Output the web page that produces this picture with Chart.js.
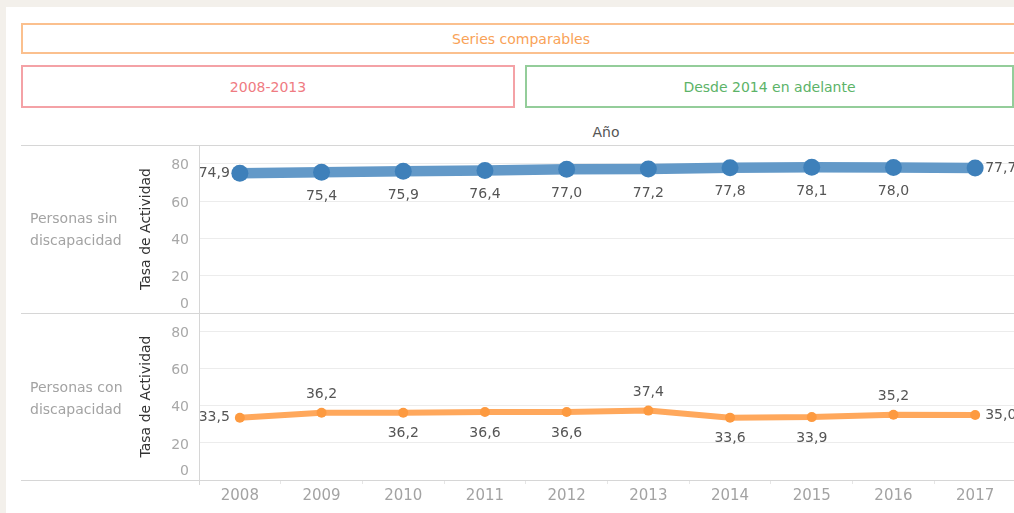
<!DOCTYPE html>
<html>
<head>
<meta charset="utf-8">
<script src="https://cdn.jsdelivr.net/npm/chart.js@4.4.0/dist/chart.umd.min.js"></script>
<style>
    html, body { margin: 0; padding: 0; }
    body {
        width: 1014px; height: 513px; position: relative; overflow: hidden;
        background: #f3f0eb; font-family: "DejaVu Sans", sans-serif;
    }
    #sheet { position: absolute; left: 6px; top: 7px; right: 0; bottom: 0; background: #fff; }
    .box {
        position: absolute; box-sizing: border-box; display: flex;
        align-items: center; justify-content: center; font-size: 14px;
    }
    .hline { position: absolute; left: 21px; width: 1000px; height: 1px; background: #d6d6d6; }
    .vline { position: absolute; left: 199px; width: 1px; background: #d6d6d6; }
    .rowlabel { position: absolute; left: 30px; font-size: 14px; line-height: 22px; color: #a3a3a3; }
    canvas { position: absolute; left: 0; }
</style>
</head>
<body>
<div id="sheet"></div>

<div class="box" style="left:21px;top:23px;width:1000px;height:31px;border:2px solid #fbc08e;color:#f9a257;">Series comparables</div>
<div class="box" style="left:21px;top:65px;width:494px;height:43px;border:2px solid #f4a2a6;color:#ef7b82;">2008-2013</div>
<div class="box" style="left:525px;top:65px;width:489px;height:43px;border:2px solid #94cd9a;color:#5cb368;">Desde 2014 en adelante</div>
<div class="box" style="left:560px;top:122px;width:92px;height:20px;color:#555;">Año</div>

<canvas id="chart-sin" width="1016" height="168" style="top:145px"></canvas>
<canvas id="chart-con" width="1016" height="200" style="top:313px"></canvas>

<div class="hline" style="top:145px"></div>
<div class="hline" style="top:313px"></div>
<div class="hline" style="top:480px"></div>
<div class="vline" style="top:145px;height:340px"></div>

<div class="rowlabel" style="top:207px">Personas sin<br>discapacidad</div>
<div class="rowlabel" style="top:376px">Personas con<br>discapacidad</div>

<script>
const years = ["2008", "2009", "2010", "2011", "2012", "2013", "2014", "2015", "2016", "2017"];
const sinDiscapacidad = [74.9, 75.4, 75.9, 76.4, 77.0, 77.2, 77.8, 78.1, 78.0, 77.7];
const conDiscapacidad = [33.5, 36.2, 36.2, 36.6, 36.6, 37.4, 33.6, 33.9, 35.2, 35.0];
const yTicks = [0, 20, 40, 60, 80];
const yMax = 90;

// where each value label sits relative to its point
const sinLabelPos = ["left", "below", "below", "below", "below", "below", "below", "below", "below", "right"];
const conLabelPos = ["left", "above", "below", "below", "below", "above", "below", "below", "above", "right"];

const FONT = "DejaVu Sans";
Chart.defaults.font.family = FONT;

const pointLabels = {
    id: "pointLabels",
    afterDatasetsDraw(chart, args, opts) {
        const ctx = chart.ctx;
        const values = chart.data.datasets[0].data;
        ctx.save();
        ctx.font = "14px '" + FONT + "'";
        ctx.fillStyle = "#555";
        ctx.textBaseline = "middle";
        chart.getDatasetMeta(0).data.forEach((pt, i) => {
            const text = values[i].toFixed(1).replace(".", ",");
            let x = pt.x, y = pt.y;
            const pos = opts.pos[i];
            if (pos === "left") { ctx.textAlign = "right"; x -= opts.side; }
            else if (pos === "right") { ctx.textAlign = "left"; x += opts.side; }
            else if (pos === "above") { ctx.textAlign = "center"; y -= opts.above; }
            else { ctx.textAlign = "center"; y += opts.below; }
            ctx.fillText(text, x, y);
        });
        // zero label is nudged up inside the pane
        const ys = chart.scales.y;
        ctx.fillStyle = "#a8a8a8";
        ctx.textAlign = "right";
        ctx.fillText("0", ys.right - 10, ys.getPixelForValue(0) - 9);
        ctx.restore();
    }
};

const makePanel = (id, values, style) => {
    const ctx = document.getElementById(id).getContext("2d");
    return new Chart(ctx, {
        type: "line",
        data: {
            labels: years,
            datasets: [
                {
                    data: values,
                    borderColor: style.line,
                    borderWidth: style.width,
                    pointRadius: style.radius,
                    pointBackgroundColor: style.point,
                    pointBorderWidth: 0,
                    tension: 0,
                    clip: false,
                }
            ],
        },
        options: {
            responsive: false,
            animation: false,
            layout: { autoPadding: false, padding: { left: 134, right: 0, top: 0, bottom: 0 } },
            plugins: {
                legend: { display: false },
                tooltip: { enabled: false },
                pointLabels: { pos: style.pos, side: 10, above: style.above, below: style.below },
            },
            scales: {
                x: {
                    display: style.showX,
                    offset: true,
                    afterFit(scale) {
                        if (style.showX) scale.height = 33;
                        scale.paddingLeft = 0;
                        scale.paddingRight = 0;
                    },
                    grid: {
                        offset: true,
                        drawOnChartArea: false,
                        drawTicks: true,
                        tickLength: 4,
                        color: "#e6e6e6",
                    },
                    border: { display: false },
                    ticks: {
                        color: "#a3a3a3",
                        font: { size: 15 },
                        padding: 3,
                        maxRotation: 0,
                    },
                },
                y: {
                    min: 0,
                    max: yMax,
                    afterFit(scale) {
                        scale.width = 65;
                        scale.paddingTop = 0;
                        scale.paddingBottom = 0;
                    },
                    afterBuildTicks(scale) {
                        scale.ticks = yTicks.map(v => ({ value: v }));
                    },
                    ticks: {
                        color: "#a8a8a8",
                        font: { size: 14 },
                        padding: 10,
                        labelOffset: 2,
                        callback: v => (v === 0 ? "" : v),
                    },
                    grid: {
                        color: c => (c.tick && c.tick.value === 0 ? "rgba(0,0,0,0)" : "#ececec"),
                        drawTicks: false,
                    },
                    border: { display: true, color: "#d6d6d6" },
                    title: {
                        display: true,
                        text: "Tasa de Actividad",
                        color: "#333",
                        font: { size: 14 },
                    },
                },
            },
        },
        plugins: [pointLabels],
    });
};

makePanel("chart-sin", sinDiscapacidad, {
    line: "#6399c8", point: "#3e80ba", width: 10.5, radius: 8.5,
    pos: sinLabelPos, above: 20, below: 24, showX: false,
});

makePanel("chart-con", conDiscapacidad, {
    line: "#ffa85c", point: "#fd9a40", width: 6, radius: 5,
    pos: conLabelPos, above: 18, below: 21, showX: true,
});
</script>
</body>
</html>
